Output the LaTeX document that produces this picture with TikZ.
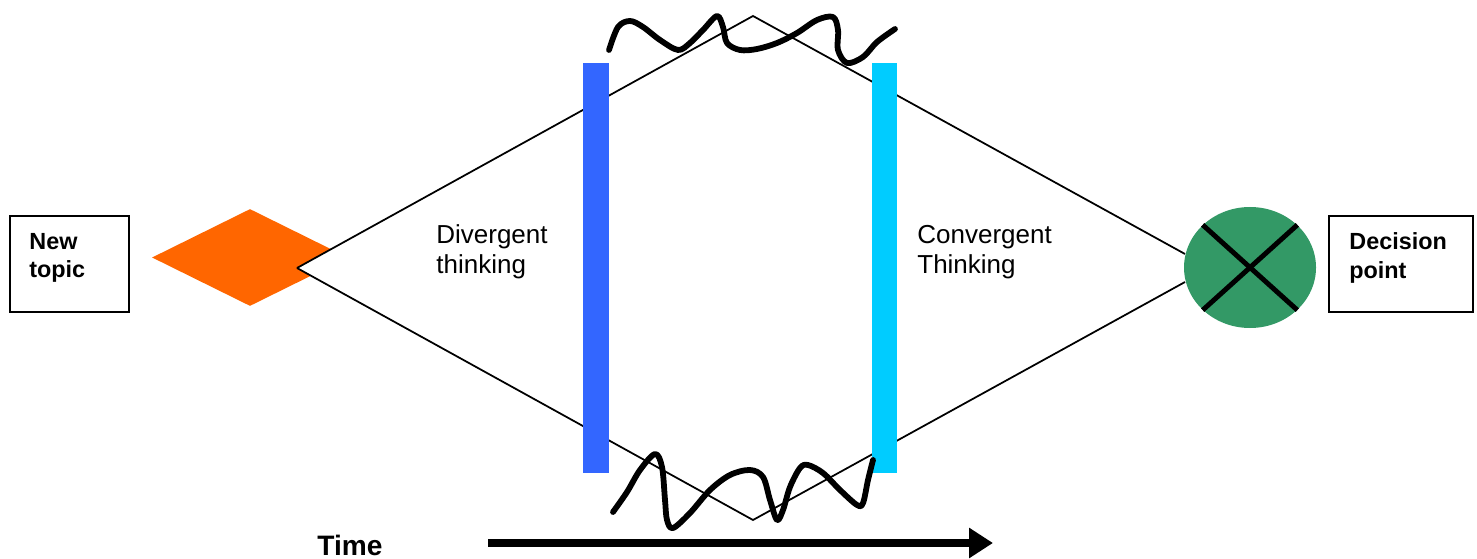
\documentclass[tikz,border=0pt]{standalone}
\usepackage{fontspec}
\setmainfont{Liberation Sans}
\usepackage{tikz}
\usetikzlibrary{shapes.geometric,arrows.meta,positioning}
\usepackage{xcolor}
\definecolor{topiccol}{RGB}{255,102,0}
\definecolor{divcol}{RGB}{51,102,255}
\definecolor{convcol}{RGB}{0,204,255}
\definecolor{decicol}{RGB}{51,153,102}

\begin{document}
\begin{tikzpicture}[
  infobox/.style={rectangle, draw=black, line width=1.1pt,
                  minimum height=1.92cm, inner sep=0pt},
  boxlabel/.style={align=left, inner sep=0pt,
                   font=\fontsize{13.3}{16}\selectfont\bfseries},
  phaselabel/.style={align=left, inner sep=0pt, anchor=west,
                     font=\fontsize{14.8}{17}\selectfont},
  phasebar/.style={rectangle, inner sep=0pt, minimum width=0.52cm,
                   minimum height=8.2cm},
  edge/.style={line width=1pt},
  scribble/.style={line width=3.3pt, line cap=round, line join=round},
  >=Stealth
]
  \useasboundingbox (0,0) rectangle (29.54,-11.18);

  % Start and end boxes
  \node[infobox, minimum width=2.38cm] (newtopic) at (1.39,-5.28) {};
  \node[boxlabel, anchor=west] (newtopictext)
    at ([xshift=0.4cm, yshift=0.12cm]newtopic.west) {New\\topic};
  \node[infobox, minimum width=2.88cm] (decision) at (28.02,-5.28) {};
  \node[boxlabel, anchor=west] (decisiontext)
    at ([xshift=0.42cm, yshift=0.12cm]decision.west) {Decision\\point};

  % Topic diamond
  \node[diamond, fill=topiccol, inner sep=0pt, minimum width=3.92cm,
        minimum height=1.94cm] (topic) at (5.0,-5.15) {};

  % Outline of the thinking space
  \coordinate (apex)   at (5.94,-5.36);
  \coordinate (peak)   at (15.06,-0.32);
  \coordinate (trough) at (15.06,-10.4);
  \coordinate (endup)  at (23.7,-5.08);
  \coordinate (enddn)  at (23.7,-5.64);
  \fill[white] (apex) -- (peak) -- (endup) -- (enddn) -- (trough) -- cycle;
  \draw[edge] (apex) -- (peak) -- (endup);
  \draw[edge] (apex) -- (trough) -- (enddn);

  % Phase bars
  \node[phasebar, fill=divcol]  (divbar)  at (11.92,-5.36) {};
  \node[phasebar, fill=convcol, minimum width=0.5cm] (convbar) at (17.69,-5.36) {};

  % Decision point
  \node[ellipse, fill=decicol, inner sep=0pt, minimum width=2.64cm,
        minimum height=2.42cm] (decpoint) at (25.0,-5.35) {};
  \draw[line width=2.8pt] (decpoint.138) -- (decpoint.-42);
  \draw[line width=2.8pt] (decpoint.42) -- (decpoint.-138);

  % Phase labels
  \node[phaselabel] (divtext)  at (8.72,-5.04)  {Divergent\\thinking};
  \node[phaselabel] (convtext) at (18.34,-5.04) {Convergent\\Thinking};

  % Scribbles
  \draw[scribble] plot[smooth, tension=0.55] coordinates {
    (12.18,-1.00) (12.36,-0.54) (12.60,-0.42) (12.86,-0.54) (13.20,-0.80)
    (13.56,-1.00) (13.80,-0.86) (14.06,-0.60) (14.34,-0.32) (14.46,-0.54)
    (14.54,-0.86) (14.80,-1.00) (15.14,-0.98) (15.54,-0.86) (15.94,-0.66)
    (16.34,-0.40) (16.66,-0.34) (16.76,-0.60) (16.76,-1.00) (16.94,-1.26)
    (17.26,-1.14) (17.54,-0.84) (17.90,-0.58)};
  \draw[scribble] plot[smooth, tension=0.55] coordinates {
    (12.26,-10.24) (12.54,-9.84) (12.80,-9.40) (13.10,-9.08) (13.24,-9.34)
    (13.30,-10.00) (13.34,-10.40) (13.46,-10.56) (13.80,-10.26) (14.20,-9.80)
    (14.60,-9.50) (15.00,-9.40) (15.26,-9.54) (15.40,-10.00) (15.54,-10.40)
    (15.66,-10.20) (15.80,-9.74) (16.00,-9.36) (16.16,-9.30) (16.46,-9.46)
    (16.80,-9.80) (17.14,-10.10) (17.26,-10.06) (17.36,-9.60) (17.46,-9.20)};

  % Time axis
  \node[anchor=base west, inner sep=0pt,
        font=\fontsize{16}{19}\selectfont\bfseries] (timetext)
    at (6.34,-11.1) {Time};
  \coordinate (tstart) at (9.76,-10.86);
  \coordinate (tend)   at (19.86,-10.86);
  \draw[line width=4.2pt, -{Triangle[length=0.48cm, width=0.58cm]}]
    (tstart) -- (tend);
\end{tikzpicture}
\end{document}
